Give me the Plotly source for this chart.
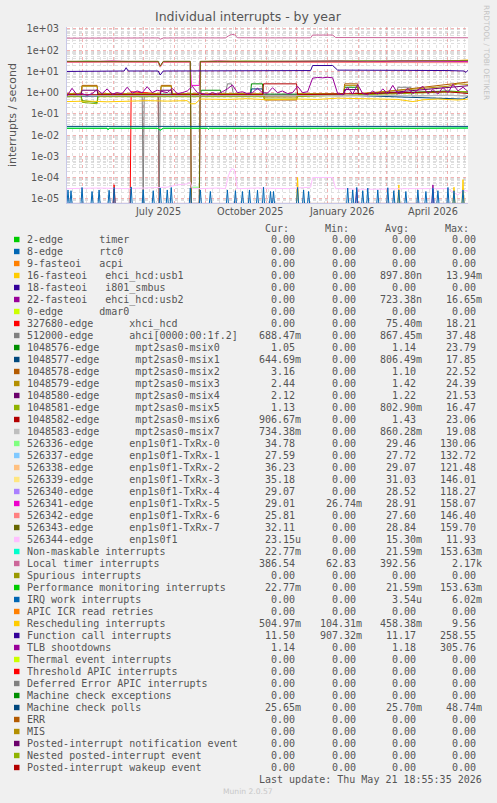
import plotly.graph_objects as go
import pandas as pd

START = pd.Timestamp("2025-04-16")
END = pd.Timestamp("2026-05-21")
F = 6e-6  # zero level: rrdtool draws it at the bottom edge of the log scale

# ---------------- legend table ----------------
legend_labels = [
    "2-edge      timer", "8-edge      rtc0", "9-fasteoi   acpi",
    "16-fasteoi   ehci_hcd:usb1", "18-fasteoi   i801_smbus", "22-fasteoi   ehci_hcd:usb2",
    "0-edge      dmar0", "327680-edge      xhci_hcd", "512000-edge      ahci[0000:00:1f.2]",
    "1048576-edge      mpt2sas0-msix0", "1048577-edge      mpt2sas0-msix1",
    "1048578-edge      mpt2sas0-msix2", "1048579-edge      mpt2sas0-msix3",
    "1048580-edge      mpt2sas0-msix4", "1048581-edge      mpt2sas0-msix5",
    "1048582-edge      mpt2sas0-msix6", "1048583-edge      mpt2sas0-msix7",
    "526336-edge      enp1s0f1-TxRx-0", "526337-edge      enp1s0f1-TxRx-1",
    "526338-edge      enp1s0f1-TxRx-2", "526339-edge      enp1s0f1-TxRx-3",
    "526340-edge      enp1s0f1-TxRx-4", "526341-edge      enp1s0f1-TxRx-5",
    "526342-edge      enp1s0f1-TxRx-6", "526343-edge      enp1s0f1-TxRx-7",
    "526344-edge      enp1s0f1", "Non-maskable interrupts", "Local timer interrupts",
    "Spurious interrupts", "Performance monitoring interrupts", "IRQ work interrupts",
    "APIC ICR read retries", "Rescheduling interrupts", "Function call interrupts",
    "TLB shootdowns", "Thermal event interrupts", "Threshold APIC interrupts",
    "Deferred Error APIC interrupts", "Machine check exceptions", "Machine check polls",
    "ERR", "MIS", "Posted-interrupt notification event", "Nested posted-interrupt event",
    "Posted-interrupt wakeup event",
]
legend_colors = [
    "#00CC00", "#0066B3", "#FF8000", "#FFCC00", "#330099", "#990099", "#CCFF00", "#FF0000",
    "#808080", "#008F00", "#00487D", "#B35A00", "#B38F00", "#6B006B", "#8FB300", "#B30000",
    "#BEBEBE", "#80FF80", "#80C9FF", "#FFC080", "#FFE680", "#AA80FF", "#EE00CC", "#FF8080",
    "#666600", "#FFBFFF", "#00FFCC", "#CC6699", "#999900", "#00CC00", "#0066B3", "#FF8000",
    "#FFCC00", "#330099", "#990099", "#CCFF00", "#FF0000", "#808080", "#008F00", "#00487D",
    "#B35A00", "#B38F00", "#6B006B", "#8FB300", "#B30000",
]
cur_vals = [
    "0.00", "0.00", "0.00", "0.00", "0.00", "0.00", "0.00", "0.00", "688.47m", "1.05",
    "644.69m", "3.16", "2.44", "2.12", "1.13", "906.67m", "734.38m", "34.78", "27.59", "36.23",
    "35.18", "29.07", "29.01", "25.81", "32.11", "23.15u", "22.77m", "386.54", "0.00", "22.77m",
    "0.00", "0.00", "504.97m", "11.50", "1.14", "0.00", "0.00", "0.00", "0.00", "25.65m",
    "0.00", "0.00", "0.00", "0.00", "0.00",
]
min_vals = [
    "0.00", "0.00", "0.00", "0.00", "0.00", "0.00", "0.00", "0.00", "0.00", "0.00",
    "0.00", "0.00", "0.00", "0.00", "0.00", "0.00", "0.00", "0.00", "0.00", "0.00",
    "0.00", "0.00", "26.74m", "0.00", "0.00", "0.00", "0.00", "62.83", "0.00", "0.00",
    "0.00", "0.00", "104.31m", "907.32m", "0.00", "0.00", "0.00", "0.00", "0.00", "0.00",
    "0.00", "0.00", "0.00", "0.00", "0.00",
]
avg_vals = [
    "0.00", "0.00", "0.00", "897.80n", "0.00", "723.38n", "0.00", "75.40m", "867.45m", "1.14",
    "806.49m", "1.10", "1.42", "1.22", "802.90m", "1.43", "860.28m", "29.46", "27.72", "29.07",
    "31.03", "28.52", "28.91", "27.60", "28.84", "15.30m", "21.59m", "392.56", "0.00", "21.59m",
    "3.54u", "0.00", "458.38m", "11.17", "1.18", "0.00", "0.00", "0.00", "0.00", "25.70m",
    "0.00", "0.00", "0.00", "0.00", "0.00",
]
max_vals = [
    "0.00", "0.00", "0.00", "13.94m", "0.00", "16.65m", "0.00", "18.21", "37.48", "23.79",
    "17.85", "22.52", "24.39", "21.53", "16.47", "23.06", "19.08", "130.06", "132.72", "121.48",
    "146.01", "118.27", "158.07", "146.40", "159.70", "11.93", "153.63m", "2.17k", "0.00", "153.63m",
    "6.02m", "0.00", "9.56", "258.55", "305.76", "0.00", "0.00", "0.00", "0.00", "48.74m",
    "0.00", "0.00", "0.00", "0.00", "0.00",
]

# ---------------- series (day offsets from START, values) ----------------
usb1_spike_days = [230, 331, 386, 395]
usb1_spike_vals = [1.0e-4, 4.5e-5, 3.5e-5, 8.0e-5]
usb2_spike_days = [289, 365]
usb2_spike_vals = [3.0e-5, 4.5e-5]

xhci_days = [0, 46, 47, 48, 63, 64, 91, 92, 400]
xhci_vals = [F, F, 4.5e-5, F, F, 1.1, 0.9, F, F]

ahci_days = [0, 30, 60, 75, 76, 77, 91, 92, 93, 120, 158, 160, 164, 166, 200, 240, 270, 329, 330, 343, 344, 380, 400]
ahci_vals = [0.65, 0.70, 0.68, 0.70, F, 0.70, 0.70, F, 0.72, 0.75, 0.80, 2.6, 2.6, 0.85, 0.75, 0.80, 0.70, 0.75, 1.8, 1.8, 0.70, 0.75, 0.69]

msix0_days = [0, 14, 15, 30, 31, 133, 134, 153, 154, 183, 184, 195, 196, 276, 277, 290, 291, 380, 400]
msix0_vals = [0.85, 0.85, 0.42, 0.35, 0.85, 0.85, 1.3, 1.3, 0.85, 0.85, 2.6, 2.6, 0.85, 0.85, 1.8, 1.8, 0.85, 1.2, 1.05]
msix1_days = [0, 183, 184, 195, 196, 265, 266, 285, 286, 395, 400]
msix1_vals = [0.7, 0.7, 1.5, 1.5, 0.7, 0.7, 0.72, 0.72, 0.74, 0.5, 0.64]
msix2_days = [0, 14, 15, 30, 31, 93, 94, 104, 105, 196, 197, 229, 230, 276, 277, 290, 291, 380, 390, 400]
msix2_vals = [0.8, 0.8, 2.2, 2.2, 0.8, 0.8, 2.2, 2.2, 0.8, 0.8, 0.45, 0.45, 0.8, 0.8, 2.6, 2.6, 0.8, 2.5, 2.8, 3.16]
msix3_days = [0, 14, 15, 30, 31, 93, 94, 104, 105, 196, 197, 229, 230, 276, 277, 290, 291, 380, 390, 400]
msix3_vals = [0.9, 0.9, 2.0, 2.0, 0.9, 0.9, 2.0, 2.0, 0.9, 0.9, 0.62, 0.62, 0.9, 0.9, 2.2, 2.2, 0.9, 2.0, 2.6, 2.44]
msix4_days = [0, 14, 15, 30, 31, 93, 94, 104, 105, 276, 277, 290, 291, 380, 400]
msix4_vals = [0.75, 0.75, 1.3, 1.3, 0.75, 0.75, 1.3, 1.3, 0.75, 0.75, 1.4, 1.4, 0.75, 1.8, 2.12]
msix5_days = [0, 14, 15, 30, 31, 196, 197, 229, 230, 380, 400]
msix5_vals = [0.65, 0.65, 0.35, 0.3, 0.65, 0.65, 0.5, 0.5, 0.65, 1.0, 1.13]
msix6_days = [0, 195, 196, 229, 230, 380, 400]
msix6_vals = [0.8, 0.8, 2.6, 2.6, 0.8, 1.1, 0.91]
msix7_days = [0, 200, 400]
msix7_vals = [0.72, 0.72, 0.73]

tx_days = [0, 20, 45, 70, 91, 93, 96, 123, 124, 132, 133, 150, 180, 210, 245, 270, 300, 330, 360, 385, 400]
txrx0_vals = [28, 31, 28, 28, 28, 17, 28, 28, 3.5e-5, 3.5e-5, 28, 29, 31, 28, 29, 28, 31, 28, 29, 30, 34.8]
txrx1_vals = [27, 27, 27, 27, 27, 16, 27, 27, F, F, 27, 27, 27, 27, 27, 27, 27, 27, 27, 28, 27.6]
txrx2_vals = [28, 28, 29, 28, 28, 17, 28, 29, F, F, 29, 28, 29, 28, 28, 29, 28, 29, 28, 31, 36.2]
txrx3_vals = [29, 29, 29, 31, 29, 17, 29, 29, F, F, 29, 31, 30, 29, 29, 30, 29, 29, 31, 31, 35.2]
txrx4_vals = [28, 28, 28, 28, 28, 17, 28, 28, F, F, 28, 28, 28, 28, 28, 28, 28, 28, 28, 29, 29.1]
txrx5_vals = [28, 28, 31, 28, 28, 17, 28, 28, 2.2, 2.2, 28, 31, 28, 29, 31, 31, 28, 31, 31, 29, 29.0]
txrx6_vals = [27, 27, 27, 27, 27, 16, 27, 27, F, F, 27, 27, 27, 27, 27, 27, 27, 27, 27, 27, 25.8]
txrx7_vals = [30, 30, 30, 30, 30, 18, 30, 30, F, F, 30, 30, 30, 30, 30, 30, 30, 30, 30, 31, 32.1]

enp_days = [0, 30, 60, 90, 100, 110, 120, 123, 125, 133, 150, 158, 161, 164, 167, 170, 190, 220, 243, 245, 265, 268, 300, 340, 380, 390, 395, 400]
enp_vals = [3.0e-5, 3.2e-5, 3.0e-5, 3.3e-5, 3.5e-5, 4.5e-5, 5.0e-5, 6.0e-5, 3.0e-5, 3.0e-5,
            3.2e-5, 3.0e-5, 1.2e-4, 2.6e-4, 2.4e-4, 3.0e-5, 3.2e-5, 3.0e-5, 3.5e-5, 1.0e-4,
            1.0e-4, 3.0e-5, 2.8e-5, 3.0e-5, 3.0e-5, 1.5e-5, 2.5e-5, 2.3e-5]

nmi_days = [0, 40, 41, 42, 90, 93, 96, 140, 141, 142, 200, 250, 300, 350, 400]
nmi_vals = [0.021, 0.021, 0.018, 0.021, 0.021, 0.017, 0.021, 0.021, 0.019, 0.021, 0.021, 0.0205, 0.021, 0.021, 0.0215]
perf_vals = [0.021, 0.021, 0.018, 0.021, 0.021, 0.017, 0.021, 0.021, 0.019, 0.021, 0.021, 0.0205, 0.021, 0.021, 0.0215]

lt_days = [0, 30, 60, 91, 93, 96, 130, 158, 161, 164, 167, 170, 200, 243, 245, 265, 268, 300, 340, 380, 400]
lt_vals = [370, 375, 372, 378, 330, 375, 380, 378, 470, 560, 540, 385, 380, 382, 520, 520, 395, 388, 385, 382, 386]

irq_spike_days = [1, 4, 15, 25, 32, 42, 47, 64, 76, 86, 93, 100, 104, 123, 133, 143, 160, 168, 175, 182,
                  190, 196, 203, 206, 230, 236, 241, 280, 285, 289, 295, 300, 310, 320, 326, 331, 338, 350, 358, 365,
                  370, 380, 386, 395]
irq_spike_vals = [2.6e-5, 2.4e-5, 3.4e-5, 2.2e-5, 2.6e-5, 2.5e-5, 3.4e-5, 3.6e-5, 2.6e-5, 2.4e-5,
                  3.2e-5, 2.6e-5, 3.4e-5, 3.2e-5, 2.6e-5, 2.2e-5, 2.6e-5, 2.4e-5, 2.2e-5, 2.6e-5,
                  2.5e-5, 3.5e-5, 2.2e-5, 2.2e-5, 3.4e-5, 2.6e-5, 2.2e-5, 3.2e-5, 2.6e-5, 3.4e-5,
                  2.4e-5, 3.2e-5, 2.6e-5, 3.3e-5, 2.4e-5, 2.6e-5, 2.2e-5, 2.6e-5, 2.2e-5, 3.2e-5,
                  2.4e-5, 3.4e-5, 2.4e-5, 2.6e-5]

rs_days = [0, 20, 40, 60, 80, 100, 120, 123, 128, 133, 160, 180, 200, 230, 250, 270, 300, 330, 345, 355, 370, 390, 400]
rs_vals = [0.38, 0.40, 0.37, 0.40, 0.42, 0.40, 0.42, 0.30, 0.30, 0.50, 0.48, 0.52, 0.46, 0.50, 0.48, 0.55, 0.50, 0.48, 0.38, 0.46, 0.50, 0.45, 0.50]

fc_days = [0, 30, 57, 59, 61, 91, 93, 96, 130, 170, 210, 243, 245, 265, 270, 300, 340, 380, 396, 398, 400]
fc_vals = [10.0, 10.2, 10.5, 15.0, 10.5, 10.5, 6.8, 10.5, 10.8, 10.5, 11.0, 11.0, 19.0, 19.0, 11.5, 11.0, 11.2, 11.0, 10.5, 9.0, 11.5]

tlb_days = list(range(0, 401, 5))
tlb_vals = [0.7, 1.6, 0.8, 0.9, 0.75, 0.9, 1.4, 0.9, 1.5, 0.85,
            1.0, 0.9, 1.8, 0.95, 1.2, 1.0, 1.9, 1.0, 1.3, 1.1,
            1.0, 1.6, 0.9, 1.0, 1.2, 2.0, 1.0, 0.9, 0.8, 1.0,
            0.85, 1.1, 1.5, 2.3, 1.0, 1.1, 0.9, 1.0, 1.6, 1.0,
            0.95, 1.7, 1.0, 1.2, 0.9, 1.0, 2.0, 1.0, 1.1, 4.8,
            5.2, 5.0, 5.3, 5.0, 0.9, 0.8, 1.8, 0.85, 2.4, 0.9,
            0.8, 1.2, 0.85, 1.5, 0.9, 2.2, 0.9, 1.0, 1.6, 0.9,
            1.3, 2.0, 0.9, 1.4, 0.85, 1.8, 1.0, 2.5, 1.2, 1.8,
            1.14]

mcp_days = [0, 100, 200, 300, 400]
mcp_vals = [0.0257, 0.0257, 0.0258, 0.0257, 0.0257]

x_label_dates = ["2025-07-16", "2025-10-16", "2026-01-15", "2026-04-16"]
x_label_text = ["July 2025", "October 2025", "January 2026", "April 2026"]
y_tick_vals = [1e-5, 1e-4, 1e-3, 1e-2, 1e-1, 1e0, 1e1, 1e2, 1e3]
y_tick_text = ["1e-05", "1e-04", "1e-03", "1e-02", "1e-01", "1e+00", "1e+01", "1e+02", "1e+03"]

# ---------------- geometry ----------------
W, H = 497, 803
L, R, T, B = 67, 29, 27, 600
PW, PH = W - L - R, H - T - B
BOT = T + PH


def pxx(x):
    return (x - L) / PW


def pxy(y):
    return (BOT - y) / PH


def to_dates(days):
    return [START + pd.Timedelta(days=d) for d in days]


def spikes(days, vals):
    xs, ys = [], []
    for d, v in zip(days, vals):
        xs += [d - 1, d, d + 1]
        ys += [F, v, F]
    return xs, ys


fig = go.Figure()


def add(days, vals, color):
    fig.add_trace(go.Scatter(x=to_dates(days), y=vals, mode="lines",
                             line=dict(color=color, width=1), showlegend=False,
                             hoverinfo="skip"))


add(*spikes(usb1_spike_days, usb1_spike_vals), "#FFCC00")
add(*spikes(usb2_spike_days, usb2_spike_vals), "#990099")
add(xhci_days, xhci_vals, "#FF0000")
add(ahci_days, ahci_vals, "#808080")
add(msix0_days, msix0_vals, "#008F00")
add(msix1_days, msix1_vals, "#00487D")
add(msix2_days, msix2_vals, "#B35A00")
add(msix3_days, msix3_vals, "#B38F00")
add(msix4_days, msix4_vals, "#6B006B")
add(msix5_days, msix5_vals, "#8FB300")
add(msix6_days, msix6_vals, "#B30000")
add(msix7_days, msix7_vals, "#BEBEBE")
for vals, col in zip([txrx0_vals, txrx1_vals, txrx2_vals, txrx3_vals, txrx4_vals, txrx5_vals, txrx6_vals, txrx7_vals],
                     ["#80FF80", "#80C9FF", "#FFC080", "#FFE680", "#AA80FF", "#EE00CC", "#FF8080", "#666600"]):
    add(tx_days, vals, col)
add(enp_days, enp_vals, "#FFBFFF")
add(nmi_days, nmi_vals, "#00FFCC")
add(lt_days, lt_vals, "#CC6699")
add(nmi_days, perf_vals, "#00CC00")
add(*spikes(irq_spike_days, irq_spike_vals), "#0066B3")
add(rs_days, rs_vals, "#FFCC00")
add(fc_days, fc_vals, "#330099")
add(tlb_days, tlb_vals, "#990099")
add(mcp_days, mcp_vals, "#00487D")

TXT = "#555555"
MONO = "DejaVu Sans Mono"
SANS = "DejaVu Sans"
ann = []
shapes = []

# title, axis title, side text
ann.append(dict(text="Individual interrupts - by year", x=pxx(248), y=pxy(17), xref="paper", yref="paper",
                showarrow=False, font=dict(family=SANS, size=12.5, color=TXT), xanchor="center", yanchor="middle"))
ann.append(dict(text="interrupts / second", x=pxx(12), y=pxy(115), xref="paper", yref="paper", textangle=-90,
                showarrow=False, font=dict(family=SANS, size=11, color=TXT), xanchor="center", yanchor="middle"))
ann.append(dict(text="RRDTOOL / TOBI OETIKER", x=pxx(487), y=pxy(52), xref="paper", yref="paper", textangle=90,
                showarrow=False, font=dict(family=SANS, size=7.4, color="#c4c4c4"), xanchor="center", yanchor="middle"))
for d, t in zip(x_label_dates, x_label_text):
    ann.append(dict(text=t, x=d, y=pxy(212), xref="x", yref="paper", showarrow=False,
                    font=dict(family=SANS, size=9.7, color=TXT), xanchor="center", yanchor="middle"))

# legend
NB = "\u00a0"
for hx, ht in zip([290, 350, 410, 470], ["Cur:", "Min:", "Avg:", "Max:"]):
    ann.append(dict(text=ht, x=pxx(hx), y=pxy(228.3), xref="paper", yref="paper", showarrow=False,
                    font=dict(family=MONO, size=10, color=TXT), xanchor="right", yanchor="middle", borderpad=0))
for i, lab in enumerate(legend_labels):
    ry = 239.5 + 12 * i
    shapes.append(dict(type="rect", xref="paper", yref="paper", x0=pxx(14), x1=pxx(19.5),
                       y0=pxy(ry + 2.7), y1=pxy(ry - 2.7), fillcolor=legend_colors[i], line=dict(width=0)))
    ann.append(dict(text=lab.replace(" ", NB), x=pxx(26.3), y=pxy(ry), xref="paper", yref="paper",
                    showarrow=False, font=dict(family=MONO, size=10, color=TXT), xanchor="left",
                    yanchor="middle", borderpad=0))
    for colx, vals in zip([302.3, 362.7, 422.7, 482.7], [cur_vals, min_vals, avg_vals, max_vals]):
        v = vals[i]
        if not v[-1].isalpha():
            v = v + NB
        ann.append(dict(text=v, x=pxx(colx), y=pxy(ry), xref="paper", yref="paper", showarrow=False,
                        font=dict(family=MONO, size=10, color=TXT), xanchor="right", yanchor="middle",
                        borderpad=0))

ann.append(dict(text="Last update: Thu May 21 18:55:35 2026".replace(" ", NB), x=pxx(482.7), y=pxy(779.3),
                xref="paper", yref="paper", showarrow=False, font=dict(family=MONO, size=10, color=TXT),
                xanchor="right", yanchor="middle", borderpad=0))
ann.append(dict(text="Munin 2.0.57", x=pxx(248), y=pxy(791.7), xref="paper", yref="paper", showarrow=False,
                font=dict(family=SANS, size=7.6, color="#c8c8c8"), xanchor="center", yanchor="middle"))

minor_vals = [m * 10.0 ** k for k in range(-6, 4) for m in range(2, 10)]

fig.update_layout(
    width=W, height=H, margin=dict(l=L, r=R, t=T, b=B, pad=0),
    paper_bgcolor="#f0f0f0", plot_bgcolor="#ffffff",
    annotations=ann, shapes=shapes, showlegend=False,
    xaxis=dict(type="date", range=[START, END], showticklabels=False, ticks="",
               tick0="2025-05-01", dtick="M1", showgrid=True, gridcolor="rgba(235,130,130,0.6)",
               griddash="dot", gridwidth=1, zeroline=False,
               showline=True, linecolor="#c8c8e8", linewidth=1,
               minor=dict(tick0="2025-04-21", dtick=7 * 86400000, showgrid=True,
                          gridcolor="rgba(190,190,190,0.45)", griddash="dot", gridwidth=1, ticks="")),
    yaxis=dict(type="log", range=[-5.2, 3.094], tickmode="array", tickvals=y_tick_vals, ticktext=y_tick_text,
               tickfont=dict(family=SANS, size=9.7, color=TXT), ticks="", ticklabelstandoff=5,
               showgrid=True, gridcolor="rgba(235,130,130,0.6)", griddash="dot", gridwidth=1,
               zeroline=False, showline=True, linecolor="#c8c8e8", linewidth=1,
               minor=dict(tickmode="array", tickvals=minor_vals, showgrid=True,
                          gridcolor="rgba(190,190,190,0.5)", griddash="dot", gridwidth=1, ticks="")),
)

fig.write_html("out.html", config={"displayModeBar": False, "staticPlot": True},
               post_script="document.body.style.margin='0';document.body.style.background='#f0f0f0';")
